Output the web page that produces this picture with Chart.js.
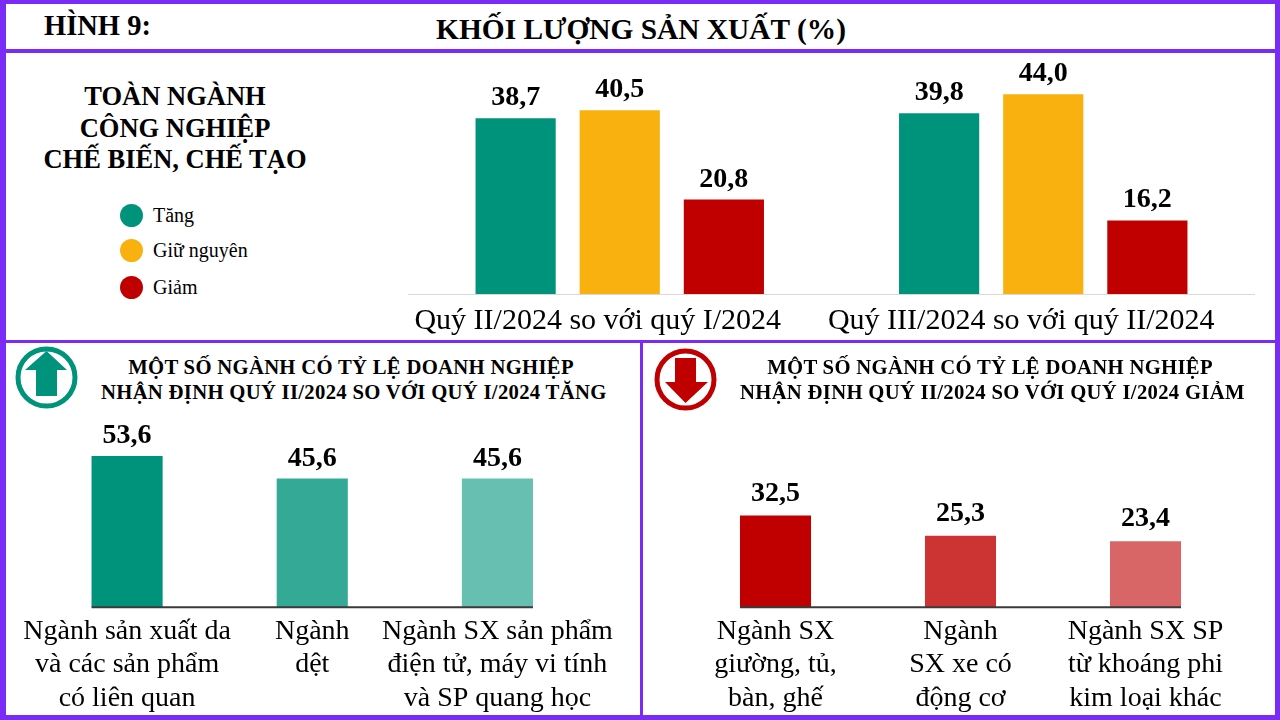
<!DOCTYPE html>
<html lang="vi">
<head>
<meta charset="utf-8">
<script src="https://cdn.jsdelivr.net/npm/chart.js@4.4.1/dist/chart.umd.min.js"></script>
<style>
  html, body { margin:0; padding:0; background:#fff; }
  body { width:1280px; height:720px; position:relative; overflow:hidden; font-family:"Liberation Serif","Times New Roman",serif; color:#000; }
  .abs { position:absolute; }
  canvas { position:absolute; }
  .frame { left:0; top:0; width:1280px; height:720px; box-sizing:border-box; border-style:solid; border-color:#7a2cf6; border-width:4px 5px 5px 6px; z-index:5; }
  .hline { background:#7a2cf6; z-index:5; }
  .hdr { font-weight:bold; white-space:nowrap; line-height:1; }
  .ptitle { font-weight:bold; font-size:20.7px; line-height:25px; text-align:center; white-space:nowrap; letter-spacing:0.3px; }
  .legend-item { position:absolute; left:120px; height:24px; display:flex; align-items:center; font-size:20px; white-space:nowrap; }
  .legend-dot { width:23px; height:23px; border-radius:50%; margin-right:10px; }
</style>
</head>
<body>
<canvas id="cTop" style="left:408px;top:53px;width:847px;height:295px;" width="847" height="295"></canvas>
<canvas id="cUp" style="left:6px;top:420px;width:634px;height:303px;" width="634" height="303"></canvas>
<canvas id="cDown" style="left:643px;top:420px;width:632px;height:303px;" width="632" height="303"></canvas>

<div class="abs frame"></div>
<div class="abs hline" style="left:0;top:49px;width:1280px;height:4px;"></div>
<div class="abs hline" style="left:0;top:340px;width:1280px;height:3px;"></div>
<div class="abs hline" style="left:640px;top:343px;width:3px;height:377px;"></div>

<div class="abs hdr" style="left:44px;top:12px;font-size:28.5px;">HÌNH 9:</div>
<div class="abs hdr" style="left:341px;top:15px;width:600px;text-align:center;font-size:29.4px;">KHỐI LƯỢNG SẢN XUẤT (%)</div>

<div class="abs" style="left:25px;top:81px;width:300px;text-align:center;font-weight:bold;font-size:26.5px;line-height:31.5px;white-space:nowrap;">TOÀN NGÀNH<br>CÔNG NGHIỆP<br>CHẾ BIẾN, CHẾ TẠO</div>
<div id="legend"></div>

<svg class="abs" style="left:5px;top:343px;" width="90" height="75" viewBox="0 0 90 75">
  <circle cx="41.5" cy="34.5" r="28.5" fill="none" stroke="#00937b" stroke-width="5"/>
  <polygon points="41.5,8 62,27 52,27 52,53 31,53 31,27 20,27" fill="#00937b"/>
</svg>
<svg class="abs" style="left:643px;top:343px;" width="90" height="75" viewBox="0 0 90 75">
  <circle cx="42.5" cy="36.5" r="28.5" fill="none" stroke="#c00000" stroke-width="5"/>
  <polygon points="32,15 53,15 53,39 65,39 42.5,60 22,39 32,39" fill="#c00000"/>
</svg>

<div class="abs ptitle" style="left:101px;top:355px;width:500px;">MỘT SỐ NGÀNH CÓ TỶ LỆ DOANH NGHIỆP<br>NHẬN ĐỊNH QUÝ II/2024 SO VỚI QUÝ I/2024 TĂNG</div>
<div class="abs ptitle" style="left:740px;top:355px;width:500px;">MỘT SỐ NGÀNH CÓ TỶ LỆ DOANH NGHIỆP<br>NHẬN ĐỊNH QUÝ II/2024 SO VỚI QUÝ I/2024 GIẢM</div>

<script>
// ---------- DATA ----------
const topCategories = ["Quý II/2024 so với quý I/2024", "Quý III/2024 so với quý II/2024"];
const seriesNames = ["Tăng", "Giữ nguyên", "Giảm"];
const seriesColors = ["#00937b", "#f9b10f", "#c00000"];
const tangValues = [38.7, 39.8];
const giuNguyenValues = [40.5, 44.0];
const giamValues = [20.8, 16.2];

const upCategories = [
  ["Ngành sản xuất da", "và các sản phẩm", "có liên quan"],
  ["Ngành", "dệt"],
  ["Ngành SX sản phẩm", "điện tử, máy vi tính", "và SP quang học"]
];
const upValues = [53.6, 45.6, 45.6];
const upColors = ["#00937b", "#33a996", "#66bfb0"];

const downCategories = [
  ["Ngành SX", "giường, tủ,", "bàn, ghế"],
  ["Ngành", "SX xe có", "động cơ"],
  ["Ngành SX SP", "từ khoáng phi", "kim loại khác"]
];
const downValues = [32.5, 25.3, 23.4];
const downColors = ["#c00000", "#cc3333", "#d96666"];

// ---------- LEGEND (HTML) ----------
const legendY = [203, 238, 275];
const legendEl = document.getElementById('legend');
seriesNames.forEach((n, i) => {
  const d = document.createElement('div');
  d.className = 'legend-item';
  d.style.top = legendY[i] + 'px';
  d.innerHTML = '<span class="legend-dot" style="background:' + seriesColors[i] + '"></span><span>' + n + '</span>';
  legendEl.appendChild(d);
});

const FONT = '"Liberation Serif","Times New Roman",serif';
const fmt = v => v.toFixed(1).replace('.', ',');

const valueLabels = {
  id: 'valueLabels',
  afterDatasetsDraw(chart, args, opts) {
    const ctx = chart.ctx;
    ctx.save();
    ctx.font = 'bold 28px ' + FONT;
    ctx.fillStyle = '#000';
    ctx.textAlign = 'center';
    ctx.textBaseline = 'alphabetic';
    chart.data.datasets.forEach((ds, di) => {
      const meta = chart.getDatasetMeta(di);
      meta.data.forEach((bar, i) => {
        ctx.fillText(fmt(ds.data[i]), bar.x, bar.y - (opts.gap || 12));
      });
    });
    ctx.restore();
  }
};

const baseLine = {
  id: 'baseLine',
  afterDatasetsDraw(chart, args, opts) {
    if (!opts.draw) return;
    const meta = chart.getDatasetMeta(0);
    const first = meta.data[0], last = meta.data[meta.data.length - 1];
    const y = chart.scales.y.getPixelForValue(0);
    const ctx = chart.ctx;
    ctx.save();
    ctx.strokeStyle = '#3a3a3a';
    ctx.lineWidth = 2;
    ctx.beginPath();
    ctx.moveTo(first.x - first.width / 2, y);
    ctx.lineTo(last.x + last.width / 2, y);
    ctx.stroke();
    ctx.restore();
  }
};

Chart.register(valueLabels, baseLine);

// ---------- TOP CHART ----------
new Chart(document.getElementById('cTop'), {
  type: 'bar',
  data: {
    labels: topCategories,
    datasets: [
      { label: seriesNames[0], data: tangValues, backgroundColor: seriesColors[0] },
      { label: seriesNames[1], data: giuNguyenValues, backgroundColor: seriesColors[1] },
      { label: seriesNames[2], data: giamValues, backgroundColor: seriesColors[2] }
    ]
  },
  options: {
    responsive: false, animation: false, devicePixelRatio: 1,
    categoryPercentage: 0.7376, barPercentage: 0.77,
    layout: { padding: { top: 14, bottom: 0, left: 0, right: 0 } },
    plugins: { legend: { display: false }, tooltip: { enabled: false }, valueLabels: { gap: 13 }, baseLine: { draw: false } },
    scales: {
      x: {
        grid: { display: false, drawTicks: false },
        border: { display: true, color: '#d9d9d9', width: 1 },
        ticks: { color: '#000', font: { family: FONT, size: 30, lineHeight: 1.2 }, padding: 9, labelOffset: -22, maxRotation: 0, autoSkip: false }
      },
      y: { display: false, min: 0, max: 50 }
    }
  }
});

function smallChart(id, labels, values, colors, pad, gap) {
  new Chart(document.getElementById(id), {
    type: 'bar',
    data: { labels: labels, datasets: [{ data: values, backgroundColor: colors }] },
    options: {
      responsive: false, animation: false, devicePixelRatio: 1,
      categoryPercentage: 1, barPercentage: 0.384,
      layout: { padding: pad },
      plugins: { legend: { display: false }, tooltip: { enabled: false }, valueLabels: { gap: gap }, baseLine: { draw: true } },
      scales: {
        x: {
          grid: { display: false, drawTicks: false },
          border: { display: false },
          ticks: { color: '#000', font: { family: FONT, size: 28, lineHeight: 1.2 }, padding: 7.5, maxRotation: 0, autoSkip: false }
        },
        y: { display: false, min: 0, max: 60 }
      }
    }
  });
}

smallChart('cUp', upCategories, upValues, upColors, { top: 18, bottom: 0, left: 28.5, right: 50 }, 13);
smallChart('cDown', downCategories, downValues, downColors, { top: 18, bottom: 0, left: 40, right: 37 }, 15);
</script>
</body>
</html>
